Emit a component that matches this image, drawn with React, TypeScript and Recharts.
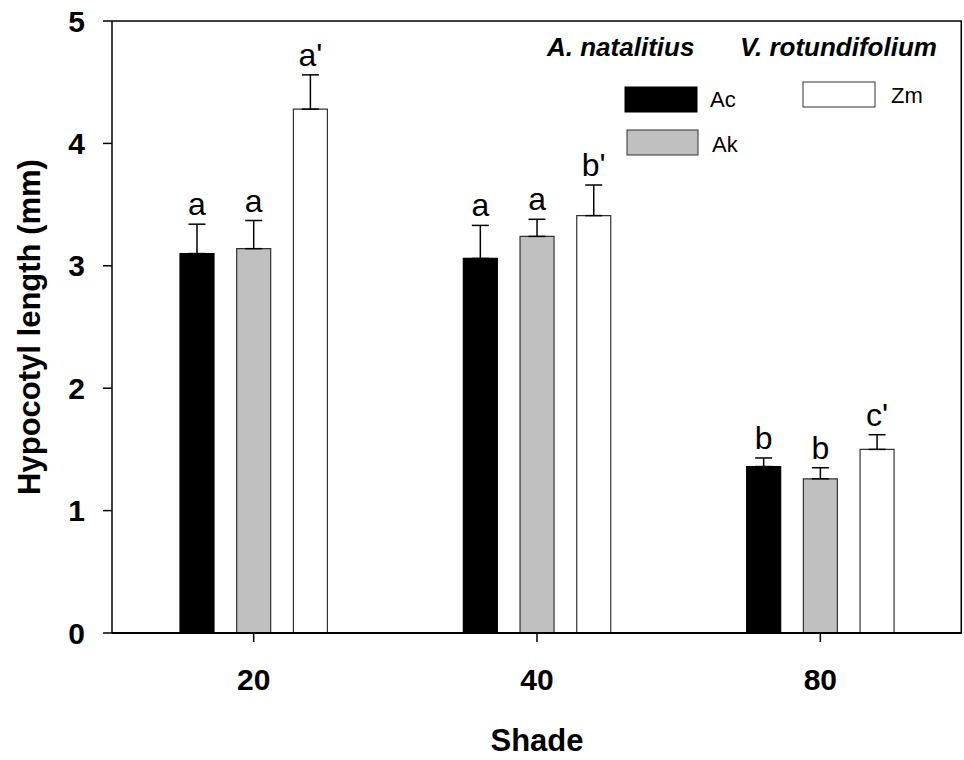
import {
  BarChart,
  Bar,
  XAxis,
  YAxis,
  ErrorBar,
  LabelList,
  ReferenceLine,
} from "recharts";

const shades = ["20", "40", "80"];
const acMean = [3.1, 3.06, 1.36];
const acErr = [0.24, 0.27, 0.07];
const akMean = [3.14, 3.24, 1.26];
const akErr = [0.23, 0.14, 0.09];
const zmMean = [4.28, 3.41, 1.5];
const zmErr = [0.28, 0.25, 0.12];
const acLetters = ["a", "a", "b"];
const akLetters = ["a", "a", "b"];
const zmLetters = ["a'", "b'", "c'"];
const yTicks = [0, 1, 2, 3, 4, 5];

const FONT = "'Liberation Sans', Arial, sans-serif";
const W = 964;
const H = 760;
const M = { top: 21, right: 2, bottom: 0, left: 0 };
const X_AXIS_H = 127;

const data = shades.map((s, i) => ({
  shade: s,
  ac: acMean[i],
  acE: [0, acErr[i]],
  ak: akMean[i],
  akE: [0, akErr[i]],
  zm: zmMean[i],
  zmE: [0, zmErr[i]],
}));

// letter above the error cap; cap height derived from the bar's own pixel height
const makeLabel =
  (vals: number[], errs: number[], letters: string[]) => (props: any) => {
    const vb = props.viewBox ?? props;
    const i = props.index;
    const h = Math.abs(vb.height);
    const ppu = h / vals[i];
    const top = Math.min(vb.y, vb.y + vb.height) - errs[i] * ppu;
    return (
      <text
        x={vb.x + vb.width / 2}
        y={top - 9}
        textAnchor="middle"
        fontSize={32}
        fontFamily={FONT}
        fill="#000"
      >
        {letters[i]}
      </text>
    );
  };

const YLabel = () => {
  const cy = 327;
  return (
    <text
      x={40}
      y={cy}
      transform={`rotate(-90, 40, ${cy})`}
      textAnchor="middle"
      fontSize={31}
      fontWeight="bold"
      fontFamily={FONT}
      fill="#000"
    >
      Hypocotyl length (mm)
    </text>
  );
};

export default function App() {
  const tickStyle = {
    fontSize: 30,
    fontWeight: "bold",
    fontFamily: FONT,
    fill: "#000",
  };
  const plotRight = W - M.right;
  const plotBottom = H - M.bottom - X_AXIS_H;
  return (
    <div
      style={{
        position: "absolute",
        left: 0,
        top: 0,
        width: W,
        height: H,
        background: "#fff",
      }}
    >
      <BarChart
        width={W}
        height={H}
        data={data}
        margin={M}
        barSize={34}
        barGap={22.7}
      >
        <XAxis
          dataKey="shade"
          height={X_AXIS_H}
          tickSize={9}
          tickMargin={27}
          tick={tickStyle}
          axisLine={{ stroke: "#000", strokeWidth: 2 }}
          tickLine={{ stroke: "#000", strokeWidth: 1.5 }}
          label={{
            value: "Shade",
            position: "insideBottom",
            offset: 9,
            fontSize: 31,
            fontWeight: "bold",
            fontFamily: FONT,
            fill: "#000",
          }}
        />
        <YAxis
          domain={[0, 5]}
          ticks={yTicks}
          width={112}
          tickSize={9}
          tickMargin={18}
          tick={tickStyle}
          axisLine={{ stroke: "#000", strokeWidth: 1.5 }}
          tickLine={{ stroke: "#000", strokeWidth: 1.5 }}
          label={<YLabel />}
        />
        {/* top edge of the plot frame */}
        <ReferenceLine y={5} stroke="#000" strokeWidth={1.5} ifOverflow="visible" />
        <Bar
          dataKey="ac"
          name="Ac"
          fill="#000"
          stroke="#000"
          strokeWidth={1.2}
          isAnimationActive={false}
        >
          <ErrorBar dataKey="acE" width={8.5} stroke="#000" strokeWidth={1.5} />
          <LabelList content={makeLabel(acMean, acErr, acLetters)} />
        </Bar>
        <Bar
          dataKey="ak"
          name="Ak"
          fill="#c0c0c0"
          stroke="#333"
          strokeWidth={1.2}
          isAnimationActive={false}
        >
          <ErrorBar dataKey="akE" width={8.5} stroke="#000" strokeWidth={1.5} />
          <LabelList content={makeLabel(akMean, akErr, akLetters)} />
        </Bar>
        <Bar
          dataKey="zm"
          name="Zm"
          fill="#fff"
          stroke="#333"
          strokeWidth={1.2}
          isAnimationActive={false}
        >
          <ErrorBar dataKey="zmE" width={8.5} stroke="#000" strokeWidth={1.5} />
          <LabelList content={makeLabel(zmMean, zmErr, zmLetters)} />
        </Bar>
      </BarChart>
      <svg
        width={W}
        height={H}
        style={{ position: "absolute", left: 0, top: 0, pointerEvents: "none" }}
        fontFamily={FONT}
      >
        {/* right edge of the plot frame */}
        <line
          x1={plotRight - 0.75}
          y1={M.top}
          x2={plotRight - 0.75}
          y2={plotBottom}
          stroke="#000"
          strokeWidth={1.5}
        />
        <text x={547} y={56} fontSize={26} fontWeight="bold" fontStyle="italic">
          A. natalitius
        </text>
        <text x={740} y={56} fontSize={26} fontWeight="bold" fontStyle="italic">
          V. rotundifolium
        </text>
        <rect x={625} y={87} width={72} height={25} fill="#000" stroke="#000" />
        <text x={710} y={107} fontSize={22}>Ac</text>
        <rect x={627} y={130} width={71} height={25} fill="#c0c0c0" stroke="#333" />
        <text x={712} y={152} fontSize={22}>Ak</text>
        <rect x={803} y={82} width={72} height={25} fill="#fff" stroke="#333" />
        <text x={891} y={103} fontSize={22}>Zm</text>
      </svg>
    </div>
  );
}
